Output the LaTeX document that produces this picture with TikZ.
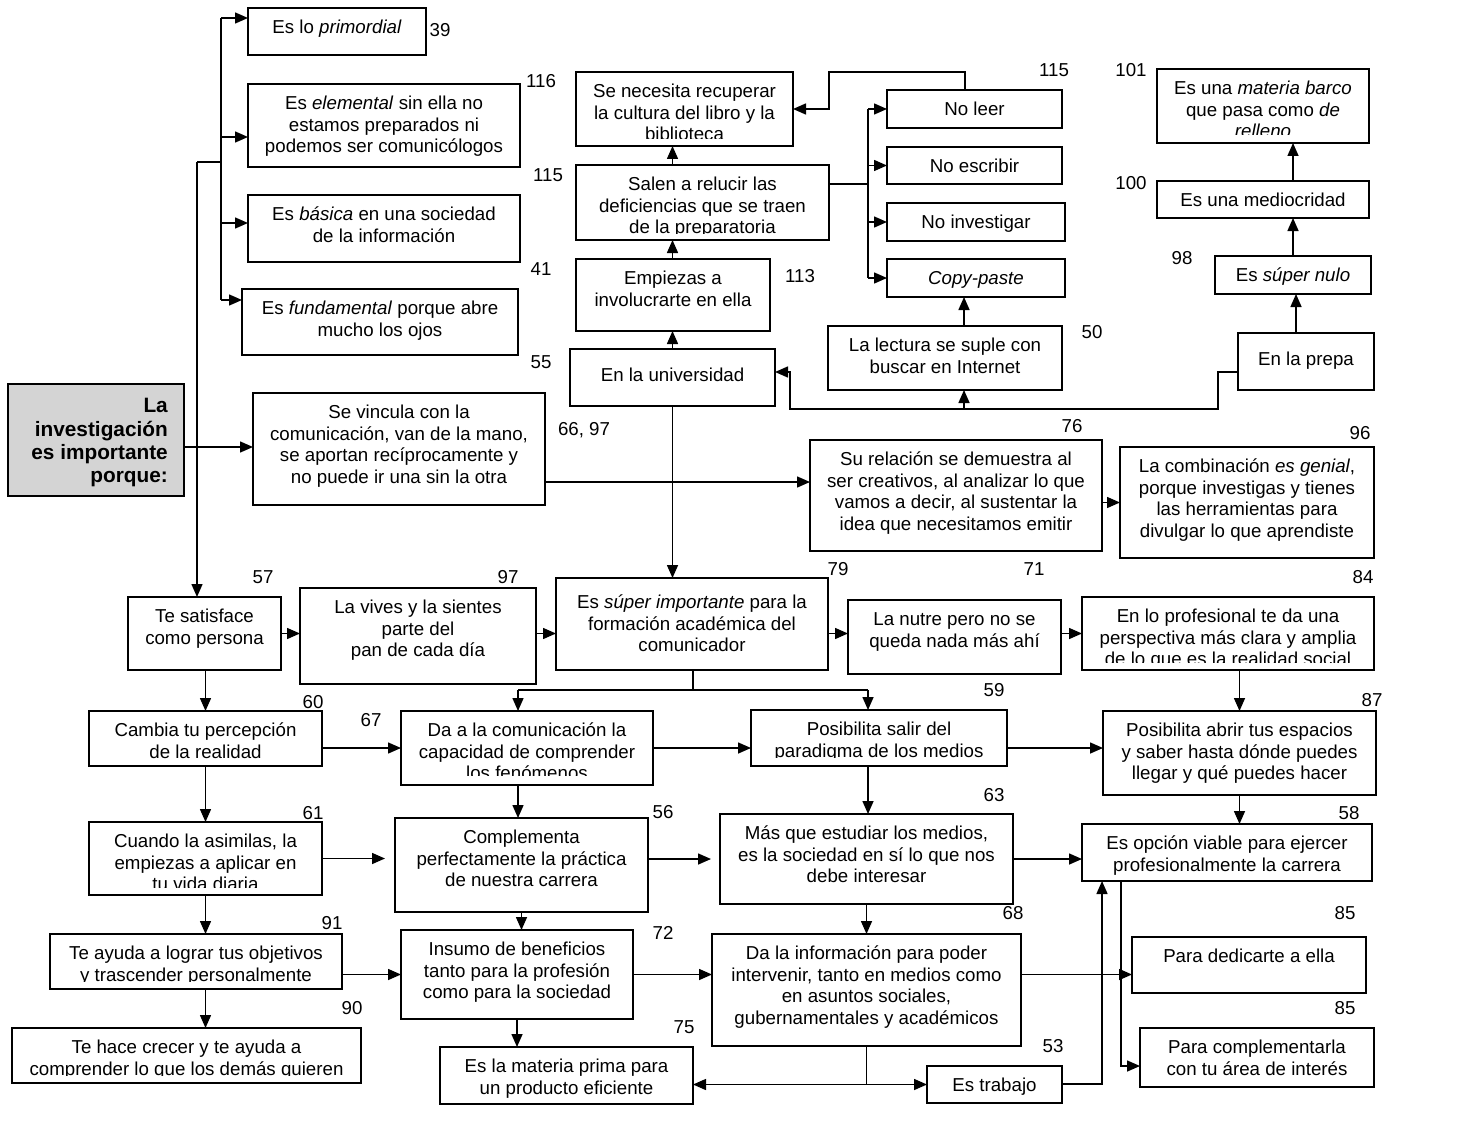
\documentclass[tikz,border=0pt]{standalone}
\usepackage{fontspec}
\setmainfont{Liberation Sans}
\usetikzlibrary{arrows.meta}
\definecolor{mygray}{RGB}{212,212,212}
% \bx[text offset]{name}{x1}{y1}{x2}{y2}{text}
\newcommand\bx[7][0]{%
  \node[box, minimum width={(#5-#3)*1pt}, minimum height={(#6-#4)*1pt}] (#2) at ({(#3+#5)/2},{(#4+#6)/2}) {};
  \node[txt, anchor=north] (#2-t) at ({(#3+#5)/2},{#4+10.65+#1}) {\strut #7};}
% \bxc{clip}{name}{x1}{y1}{x2}{y2}{text}
\newcommand\bxc[7]{%
  \node[box, minimum width={(#5-#3)*1pt}, minimum height={(#6-#4)*1pt}] (#2) at ({(#3+#5)/2},{(#4+#6)/2}) {};
  \begin{scope}
  \clip (#3,#4) rectangle (#5,{#6-#1});
  \node[txt, anchor=north] (#2-t) at ({(#3+#5)/2},{#4+10.65}) {\strut #7};
  \end{scope}}
\newcommand\numlab[3]{\node[numlbl] (#1) at (#2) {#3};}
\begin{document}
\begin{tikzpicture}[x=1pt, y=-1pt,
  box/.style={draw, line width=1.7pt, inner sep=0pt, outer sep=0pt},
  txt/.style={inner sep=0pt, align=center, font=\fontsize{18.7}{21.5}\selectfont},
  numlbl/.style={inner sep=0pt, font=\fontsize{18.7}{21.5}\selectfont},
  ln/.style={line width=1.5pt},
  arr/.style={line width=1.5pt, -{Triangle[length=13pt,width=11pt]}}]
\useasboundingbox (0,0) rectangle (1471,1126);

% main box
\node[box, fill=mygray, minimum width=176pt, minimum height=112pt] (main) at (96,440) {};
\node[anchor=north east, inner sep=0pt, align=right, font=\bfseries\fontsize{20.8}{23.3}\selectfont] (main-t) at (168,396.2) {\strut La\\investigación\\es importante\\porque:};

% left column top
\bx{prim}{248}{8}{426}{55}{Es lo \textit{primordial}}
\bx{elem}{248}{84}{520}{167}{Es \textit{elemental} sin ella no\\estamos preparados ni\\podemos ser comunicólogos}
\bx{bas}{248}{195}{520}{262}{Es \textit{básica} en una sociedad\\de la información}
\bx{fund}{242}{289}{518}{355}{Es \textit{fundamental} porque abre\\mucho los ojos}
\bx{vinc}{253}{393}{545}{505}{Se vincula con la\\comunicación, van de la mano,\\se aportan recíprocamente y\\no puede ir una sin la otra}

% middle top
\bxc{7}{nec}{576}{72}{793}{146}{Se necesita recuperar\\la cultura del libro y la\\biblioteca}
\bxc{7}{sal}{576}{165}{829}{240}{Salen a relucir las\\deficiencias que se traen\\de la preparatoria}
\bx{emp}{576}{259}{770}{331}{Empiezas a\\involucrarte en ella}
\bx[7]{univ}{570}{349}{775}{406}{En la universidad}
\bx{noleer}{887}{90}{1062}{128}{No leer}
\bx{noesc}{887}{147}{1062}{184}{No escribir}
\bx{noinv}{887}{203}{1065}{241}{No investigar}
\bx{copy}{887}{259}{1065}{297}{\textit{Copy-paste}}
\bx{lect}{828}{326}{1062}{390}{La lectura se suple con\\buscar en Internet}

% right top
\bxc{8}{barco}{1157}{69}{1369}{143}{Es una \textit{materia barco}\\que pasa como \textit{de}\\\textit{relleno}}
\bx{medio}{1157}{181}{1369}{218}{Es una mediocridad}
\bx{nulo}{1215}{256}{1371}{294}{Es \textit{súper nulo}}
\bx[7]{prepa}{1238}{333}{1374}{390}{En la prepa}
\bx{rel}{810}{440}{1102}{551}{Su relación se demuestra al\\ser creativos, al analizar lo que\\vamos a decir, al sustentar la\\idea que necesitamos emitir}
\bx{comb}{1120}{447}{1374}{558}{La combinación \textit{es genial},\\porque investigas y tienes\\las herramientas para\\divulgar lo que aprendiste}

% row 1
\bx{sat}{128}{597}{281}{670}{Te satisface\\como persona}
\bx{vives}{300}{588}{536}{684}{La vives y la sientes\\parte del\\pan de cada día}
\bx[5]{sup}{556}{578}{828}{670}{Es \textit{súper importante} para la\\formación académica del\\comunicador}
\bx{nutre}{848}{600}{1061}{674}{La nutre pero no se\\queda nada más ahí}
\bxc{8}{prof}{1082}{597}{1374}{670}{En lo profesional te da una\\perspectiva más clara y amplia\\de lo que es la realidad social}

% row 2
\bx{camb}{89}{711}{322}{766}{Cambia tu percepción\\de la realidad}
\bxc{10}{da}{401}{711}{653}{785}{Da a la comunicación la\\capacidad de comprender\\los fenómenos}
\bxc{9}{posal}{751}{710}{1007}{766}{Posibilita salir del\\paradigma de los medios}
\bx{abrir}{1103}{711}{1376}{795}{Posibilita abrir tus espacios\\y saber hasta dónde puedes\\llegar y qué puedes hacer}

% row 3
\bxc{8}{cuando}{89}{822}{322}{895}{Cuando la asimilas, la\\empiezas a aplicar en\\tu vida diaria}
\bx{comp}{395}{818}{648}{912}{Complementa\\perfectamente la práctica\\de nuestra carrera}
\bx{mas}{720}{814}{1013}{904}{Más que estudiar los medios,\\es la sociedad en sí lo que nos\\debe interesar}
\bx{opc}{1082}{824}{1372}{881}{Es opción viable para ejercer\\profesionalmente la carrera}

% row 4
\bxc{8}{teay}{50}{934}{342}{989}{Te ayuda a lograr tus objetivos\\y trascender personalmente}
\bx{ins}{401}{930}{633}{1019}{Insumo de beneficios\\tanto para la profesión\\como para la sociedad}
\bx{dinf}{712}{934}{1021}{1046}{Da la información para poder\\intervenir, tanto en medios como\\en asuntos sociales,\\gubernamentales y académicos}
\bx{dedic}{1132}{937}{1366}{993}{Para dedicarte a ella}

% row 5
\bxc{8}{tehace}{12}{1028}{361}{1083}{Te hace crecer y te ayuda a\\comprender lo que los demás quieren}
\bx{mat}{440}{1047}{693}{1104}{Es la materia prima para\\un producto eficiente}
\bx{trab}{927}{1066}{1062}{1103}{Es trabajo}
\bx{compl}{1140}{1028}{1374}{1087}{Para complementarla\\con tu área de interés}

% number labels
\numlab{n1}{440,30}{39}
\numlab{n2}{541,81}{116}
\numlab{n3}{548,175}{115}
\numlab{n4}{541,269}{41}
\numlab{n5}{541,362}{55}
\numlab{n6}{800,276}{113}
\numlab{n7}{1054,70}{115}
\numlab{n8}{1131,70}{101}
\numlab{n9}{1131,183}{100}
\numlab{n10}{1182,258}{98}
\numlab{n11}{1092,332}{50}
\numlab{n12}{584,430}{66, 97}
\numlab{n13}{1072,426}{76}
\numlab{n14}{1360,433}{96}
\numlab{n15}{263,577}{57}
\numlab{n16}{508,577}{97}
\numlab{n17}{838,569}{79}
\numlab{n18}{1034,569}{71}
\numlab{n19}{1363,577}{84}
\numlab{n20}{313,702}{60}
\numlab{n21}{371,720}{67}
\numlab{n22}{994,690}{59}
\numlab{n23}{1372,700}{87}
\numlab{n24}{313,813}{61}
\numlab{n25}{663,812}{56}
\numlab{n26}{994,795}{63}
\numlab{n27}{1349,813}{58}
\numlab{n28}{332,923}{91}
\numlab{n29}{663,933}{72}
\numlab{n30}{1013,913}{68}
\numlab{n31}{1345,913}{85}
\numlab{n32}{352,1008}{90}
\numlab{n33}{684,1027}{75}
\numlab{n34}{1053,1046}{53}
\numlab{n35}{1345,1008}{85}

% ---------- connectors ----------
% trunk and branch
\coordinate (trunk) at (197,162);
\coordinate (br) at (221,162);
\coordinate (b1) at (221,18);
\coordinate (b2) at (221,137);
\coordinate (b3) at (221,223);
\coordinate (b4) at (221,300);
\draw[ln] (trunk) -- (br);
\draw[ln] (b1) -- (b4);
\draw[arr] (b1) -- (b1 -| prim.west);
\draw[arr] (b2) -- (b2 -| elem.west);
\draw[arr] (b3) -- (b3 -| bas.west);
\draw[arr] (b4) -- (b4 -| fund.west);
\draw[arr] (trunk) -- (trunk |- sat.north);
\coordinate (m1) at ([yshift=-7pt]main.east);
\draw[arr] (m1) -- (m1 -| vinc.west);

% vinc -> rel -> comb
\coordinate (v1) at ([yshift=-33pt]vinc.east);
\draw[arr] (v1) -- (v1 -| rel.west);
\draw[arr] (rel.east |- comb.west) -- (comb.west);

% university chain
\draw[arr] (univ.north) -- (univ.north |- emp.south);
\draw[arr] (univ.north |- emp.north) -- (univ.north |- sal.south);
\draw[arr] (univ.north |- sal.north) -- (univ.north |- nec.south);
\draw[arr] (univ.south) -- (univ.south |- sup.north);

% salen -> four
\coordinate (sb) at (868,184);
\draw[ln] (sb -| sal.east) -- (sb);
\draw[ln] (sb |- noleer.west) -- (sb |- copy.west);
\draw[arr] (sb |- noleer.west) -- (noleer.west);
\draw[arr] (sb |- noesc.west) -- (noesc.west);
\draw[arr] (sb |- noinv.west) -- (noinv.west);
\draw[arr] (sb |- copy.west) -- (copy.west);

% no leer -> necesita
\coordinate (c0) at (965,72);
\coordinate (c1) at (829,72);
\draw[arr] (c0 |- noleer.north) -- (c0) -- (c1) |- (nec.east);

% lectura -> copy
\coordinate (lc) at ([xshift=19pt]lect.north);
\draw[arr] (lc) -- (lc |- copy.south);

% prepa -> universidad, lectura
\coordinate (p1) at (1218,372);
\coordinate (p2) at (1218,409);
\coordinate (p3) at (790,409);
\coordinate (p4) at (790,372);
\draw[arr] (p1 -| prepa.west) -- (p1) -- (p2) -- (p3) -- (p4) -- (p4 -| univ.east);
\coordinate (lx) at (964,409);
\draw[arr] (lx) -- (lx |- lect.south);

% prepa -> nulo -> medio -> barco
\coordinate (pn) at ([xshift=-10pt]prepa.north);
\draw[arr] (pn) -- (pn |- nulo.south);
\draw[arr] (nulo.north) -- (nulo.north |- medio.south);
\draw[arr] (nulo.north |- medio.north) -- (nulo.north |- barco.south);

% row 1 horizontals
\draw[arr] (sat.east) -- (sat.east -| vives.west);
\draw[arr] (sat.east -| vives.east) -- (sat.east -| sup.west);
\draw[arr] (sat.east -| sup.east) -- (sat.east -| nutre.west);
\draw[arr] (sat.east -| nutre.east) -- (sat.east -| prof.west);

% sup split
\coordinate (s1) at (693,690);
\coordinate (s2) at (518,690);
\coordinate (s3) at (868,690);
\draw[ln] (s1 |- sup.south) -- (s1);
\draw[ln] (s2) -- (s3);
\draw[arr] (s2) -- (s2 |- da.north);
\draw[arr] (s3) -- (s3 |- posal.north);

% left column verticals
\draw[arr] (camb.north |- sat.south) -- (camb.north);
\draw[arr] (camb.south) -- (camb.south |- cuando.north);
\draw[arr] (camb.south |- cuando.south) -- (camb.south |- teay.north);
\draw[arr] (camb.south |- teay.south) -- (camb.south |- tehace.north);

% row 2 horizontals
\draw[arr] (camb.east |- da.west) -- (da.west);
\draw[arr] (da.east) -- (da.east -| posal.west);
\draw[arr] (da.east -| posal.east) -- (da.east -| abrir.west);
\draw[arr] (abrir.north |- prof.south) -- (abrir.north);
\draw[arr] (abrir.south) -- (abrir.south |- opc.north);

% middle verticals
\draw[arr] (s2 |- da.south) -- (s2 |- comp.north);
\draw[arr] (comp.south) -- (comp.south |- ins.north);
\draw[arr] (ins.south) -- (ins.south |- mat.north);
\draw[arr] (s3 |- posal.south) -- (s3 |- mas.north);
\draw[arr] (mas.south) -- (mas.south |- dinf.north);

% row 3 horizontals
\draw[arr, shorten >=10pt] (cuando.east) -- (cuando.east -| comp.west);
\draw[arr, shorten >=9pt] (mas.west -| comp.east) -- (mas.west);
\draw[arr] (mas.east) -- (mas.east -| opc.west);

% row 4 horizontals
\draw[arr] (teay.east |- ins.west) -- (ins.west);
\draw[arr] (ins.east) -- (ins.east -| dinf.west);
\draw[arr] (ins.east -| dinf.east) -- (ins.east -| dedic.west);

% dinf split
\coordinate (d1) at (dinf.south |- trab.west);
\draw[ln] (dinf.south) -- (d1);
\draw[arr] (d1) -- (d1 -| mat.east);
\draw[arr] (d1) -- (trab.west);

% trabajo -> opcion
\coordinate (t1) at (1102,1084);
\draw[arr] (trab.east |- t1) -- (t1) -- (t1 |- opc.south);

% opcion -> complementarla
\coordinate (o1) at (1121,1066);
\draw[arr] (o1 |- opc.south) -- (o1) -- (o1 -| compl.west);
\end{tikzpicture}
\end{document}
